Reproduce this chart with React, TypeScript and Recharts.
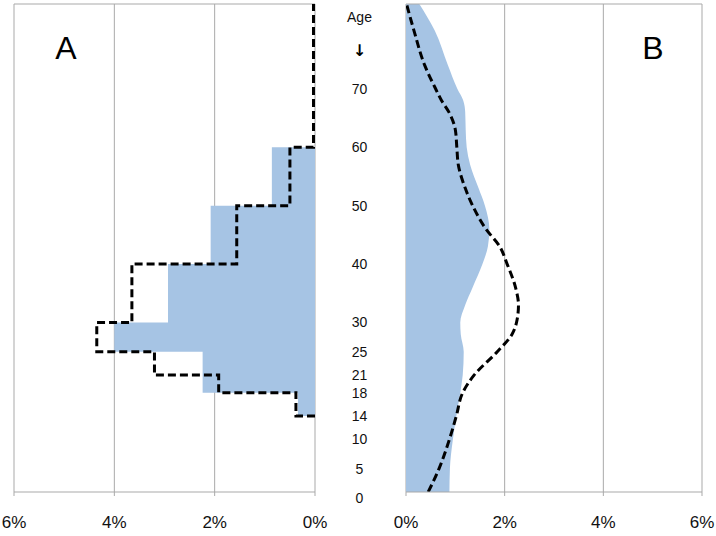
import React from "react";
import {
  ComposedChart,
  Area,
  Line,
  XAxis,
  YAxis,
  CartesianGrid,
  ReferenceLine,
} from "recharts";

// ---- shared axis data ----
const AGE_TICKS = [0, 5, 10, 14, 18, 21, 25, 30, 40, 50, 60, 70];
const PCT_TICKS = [0, 2, 4, 6];
const AGE_MIN = 1;
const AGE_MAX = 84.5;

// ---- Panel A (step profile; each age is the upper bound of its band) ----
const A_AGES = [14, 18, 21, 25, 30, 40, 50, 60, 84.5];
const A_OBSERVED = [0, 0.34, 2.24, 2.24, 4.0, 2.93, 2.08, 0.86, 0];
const A_EXPECTED = [0, 0.38, 1.92, 3.2, 4.35, 3.65, 1.56, 0.5, 0.03];

// ---- Panel B (smooth profile) ----
const B_AGES = [1, 5, 10, 14, 18, 21, 25, 28, 30, 33, 36, 40, 43, 46, 50, 53, 57, 60, 63, 66, 68, 70, 74, 80, 84.5];
const B_OBSERVED = [0.88, 0.89, 0.95, 1.02, 1.1, 1.15, 1.17, 1.11, 1.1, 1.2, 1.35, 1.55, 1.66, 1.69, 1.6, 1.47, 1.3, 1.23, 1.21, 1.2, 1.16, 1.04, 0.85, 0.58, 0.27];
const B_EXPECTED = [0.45, 0.67, 0.88, 1.02, 1.15, 1.38, 1.85, 2.15, 2.24, 2.28, 2.22, 2.05, 1.9, 1.62, 1.35, 1.2, 1.06, 1.03, 1.0, 0.87, 0.72, 0.6, 0.38, 0.16, 0.01];

const aData = A_AGES.map((age, i) => ({ age, observed: A_OBSERVED[i], expected: A_EXPECTED[i] }));
const bData = B_AGES.map((age, i) => ({ age, observed: B_OBSERVED[i], expected: B_EXPECTED[i] }));

const BLUE = "#a6c4e4";
const GRID = "#a9a9a9";
const FONT = "'Liberation Sans', Arial, sans-serif";

const pct = (v: number) => `${v}%`;

function AgeTick(props: any) {
  const { x, y, payload } = props;
  return (
    <text x={x} y={y} dy="0.355em" textAnchor="middle" fontSize={14} fill="#111" fontFamily={FONT}>
      {payload.value}
    </text>
  );
}

export default function App() {
  return (
    <div
      style={{
        position: "absolute",
        left: 0,
        top: 0,
        width: 716,
        height: 536,
        background: "#fff",
        fontFamily: FONT,
        overflow: "hidden",
      }}
    >
      <div style={{ position: "absolute", left: 0, top: 0 }}>
        <ComposedChart width={330} height={536} layout="vertical" data={aData} margin={{ top: 4, right: 15, bottom: 0, left: 14 }}>
          <CartesianGrid horizontal={false} stroke={GRID} />
          <XAxis
            type="number"
            domain={[0, 6]}
            ticks={PCT_TICKS}
            reversed
            interval={0}
            allowDataOverflow
            tickFormatter={pct}
            height={44}
            stroke={GRID}
            tickSize={4}
            tickMargin={20}
            tick={{ fill: "#111", fontSize: 17, fontFamily: FONT }}
          />
          <YAxis type="number" dataKey="age" domain={[AGE_MIN, AGE_MAX]} reversed allowDataOverflow hide />
          <ReferenceLine y={AGE_MAX} stroke={GRID} />
          <Area type="stepAfter" dataKey="observed" fill={BLUE} fillOpacity={1} stroke="none" isAnimationActive={false} />
          <Line type="stepAfter" dataKey="expected" stroke="#000" strokeWidth={3} strokeDasharray="8 4" dot={false} isAnimationActive={false} />
        </ComposedChart>
      </div>
      <div style={{ position: "absolute", left: 330, top: 0 }}>
        <ComposedChart width={386} height={536} layout="vertical" data={bData} margin={{ top: 4, right: 14, bottom: 0, left: 0 }}>
          <CartesianGrid horizontal={false} stroke={GRID} />
          <XAxis
            type="number"
            domain={[0, 6]}
            ticks={PCT_TICKS}
            interval={0}
            allowDataOverflow
            tickFormatter={pct}
            height={44}
            stroke={GRID}
            tickSize={4}
            tickMargin={20}
            tick={{ fill: "#111", fontSize: 17, fontFamily: FONT }}
          />
          <YAxis
            type="number"
            dataKey="age"
            domain={[AGE_MIN, AGE_MAX]}
            reversed
            allowDataOverflow
            ticks={AGE_TICKS}
            interval={0}
            width={76}
            axisLine={false}
            tickLine={false}
            tickSize={0}
            tickMargin={46.5}
            tick={(p: any) => <AgeTick {...p} />}
          />
          <ReferenceLine y={AGE_MAX} stroke={GRID} />
          <Area type="monotone" dataKey="observed" fill={BLUE} fillOpacity={1} stroke="none" isAnimationActive={false} />
          <Line type="monotone" dataKey="expected" stroke="#000" strokeWidth={3} strokeDasharray="8 4" dot={false} isAnimationActive={false} />
        </ComposedChart>
      </div>
      <svg width={716} height={536} style={{ position: "absolute", left: 0, top: 0, pointerEvents: "none" }}>
        <text x={66} y={59} textAnchor="middle" fontSize={32} fill="#000" fontFamily={FONT}>A</text>
        <text x={653} y={59} textAnchor="middle" fontSize={32} fill="#000" fontFamily={FONT}>B</text>
        <text x={359.5} y={22} textAnchor="middle" fontSize={14} fill="#111" fontFamily={FONT}>Age</text>
        <text x={359.5} y={56} textAnchor="middle" fontSize={16} fontWeight="bold" fill="#000" fontFamily="'DejaVu Sans', sans-serif">↓</text>
      </svg>
    </div>
  );
}
